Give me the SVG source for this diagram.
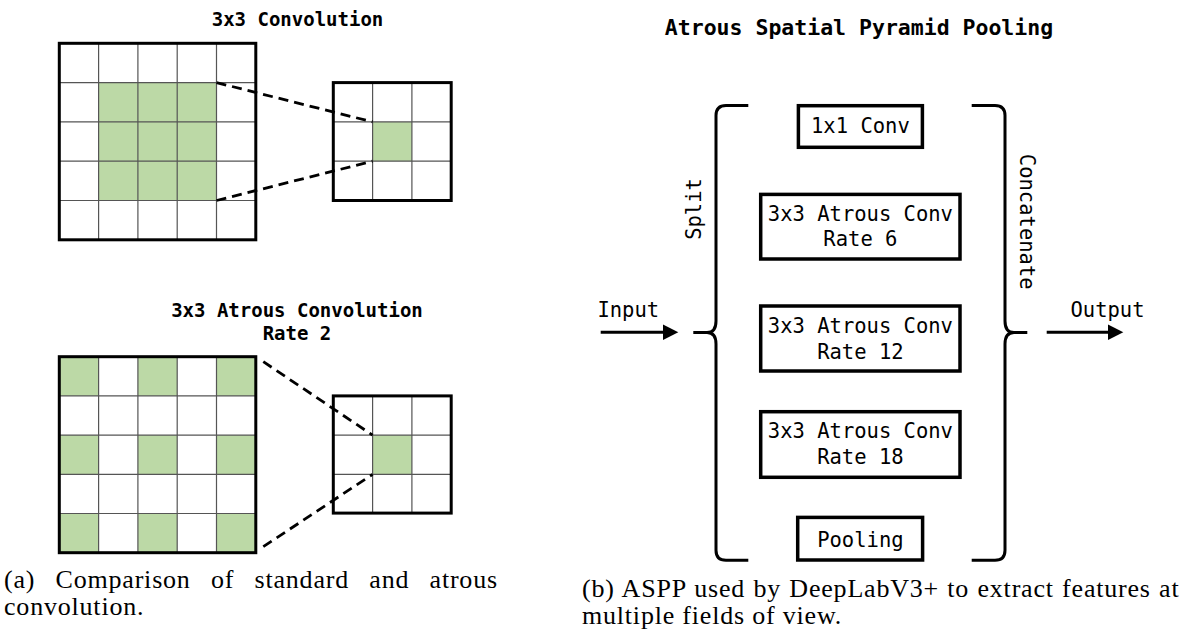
<svg xmlns="http://www.w3.org/2000/svg" width="1189" height="637" viewBox="0 0 1189 637">
<style>
.g{fill:#bcd9a6}
.thin{stroke:#555;stroke-width:1.2;fill:none}
.outer{stroke:#000;stroke-width:3;fill:none}
.dash{stroke:#000;stroke-width:2.8;stroke-dasharray:10 6;fill:none}
.box{fill:#fff;stroke:#000;stroke-width:3.5}
.br{stroke:#000;stroke-width:3;fill:none}
.t{font-family:"DejaVu Sans Mono",monospace;font-size:20.5px;fill:#000}
.tb{font-family:"DejaVu Sans Mono",monospace;font-weight:bold;fill:#000}
.cap{font-family:"Liberation Serif",serif;font-size:26px;letter-spacing:0.8px;fill:#000}
</style>
<rect width="1189" height="637" fill="#fff"/>

<!-- Standard convolution -->
<g id="title-conv"><text class="tb" x="297.5" y="26" font-size="19" text-anchor="middle">3x3 Convolution</text></g>
<g id="grid-conv-input">
<rect class="g" x="98.6" y="82.6" width="117.9" height="117.9"/>
<path class="thin" d="M98.6,43.3V239.8M137.9,43.3V239.8M177.2,43.3V239.8M216.5,43.3V239.8M59.3,82.6H255.8M59.3,121.9H255.8M59.3,161.2H255.8M59.3,200.5H255.8"/>
<rect class="outer" x="59.3" y="43.3" width="196.5" height="196.5"/>
</g>
<g id="grid-conv-output">
<rect class="g" x="372.6" y="121.9" width="39.3" height="39.3"/>
<path class="thin" d="M372.6,82.6V200.5M411.9,82.6V200.5M333.3,121.9H451.2M333.3,161.2H451.2"/>
<rect class="outer" x="333.3" y="82.6" width="117.9" height="117.9"/>
</g>

<!-- Atrous convolution -->
<g id="title-atrous">
<text class="tb" x="297" y="316.7" font-size="19" text-anchor="middle">3x3 Atrous Convolution</text>
<text class="tb" x="297" y="340" font-size="19" text-anchor="middle">Rate 2</text>
</g>
<g id="grid-atrous-input">
<rect class="g" x="59.3" y="356.7" width="39.3" height="39.2"/>
<rect class="g" x="137.9" y="356.7" width="39.3" height="39.2"/>
<rect class="g" x="216.5" y="356.7" width="39.3" height="39.2"/>
<rect class="g" x="59.3" y="435.1" width="39.3" height="39.2"/>
<rect class="g" x="137.9" y="435.1" width="39.3" height="39.2"/>
<rect class="g" x="216.5" y="435.1" width="39.3" height="39.2"/>
<rect class="g" x="59.3" y="513.5" width="39.3" height="39.2"/>
<rect class="g" x="137.9" y="513.5" width="39.3" height="39.2"/>
<rect class="g" x="216.5" y="513.5" width="39.3" height="39.2"/>
<path class="thin" d="M98.6,356.7V552.7M137.9,356.7V552.7M177.2,356.7V552.7M216.5,356.7V552.7M59.3,395.9H255.8M59.3,435.1H255.8M59.3,474.3H255.8M59.3,513.5H255.8"/>
<rect class="outer" x="59.3" y="356.7" width="196.5" height="196"/>
</g>
<g id="grid-atrous-output">
<rect class="g" x="372.6" y="435.1" width="39.3" height="39.2"/>
<path class="thin" d="M372.6,395.9V513.1M411.9,395.9V513.1M333.3,435.1H451.2M333.3,474.3H451.2"/>
<rect class="outer" x="333.3" y="395.9" width="117.9" height="117.2"/>
</g>

<!-- ASPP -->
<g id="title-aspp"><text class="tb" x="859" y="35" font-size="21.5" text-anchor="middle">Atrous Spatial Pyramid Pooling</text></g>

<g id="connectors">
<path class="dash" d="M216.5,82.6L372.6,121.9M216.5,200.5L372.6,161.2"/>
<path class="dash" d="M263.3,361.7L372.6,435.1M263.3,546.7L372.6,474.3"/>
<path class="br" d="M748.3,105.5H726Q716,105.5 716,115.5V321Q716,332.5 707,332.5Q716,332.5 716,344V550.2Q716,560.2 726,560.2H748.3M693.3,332.5H707"/>
<path class="br" d="M971.7,105.5H995Q1005,105.5 1005,115.5V321Q1005,332.5 1014,332.5Q1005,332.5 1005,344V550.2Q1005,560.2 995,560.2H971.7M1014,332.5H1027.3"/>
<path stroke="#000" stroke-width="3" d="M600.7,332.3H665"/>
<polygon points="663,324.5 678.3,332.3 663,340.1" fill="#000"/>
<path stroke="#000" stroke-width="3" d="M1046.7,332.3H1110"/>
<polygon points="1108,324.5 1123.3,332.3 1108,340.1" fill="#000"/>
</g>

<g id="label-input"><text class="t" x="628.3" y="316.7" text-anchor="middle">Input</text></g>
<g id="label-output"><text class="t" x="1107.5" y="316.7" text-anchor="middle">Output</text></g>
<g id="label-split"><text class="t" transform="translate(701,209) rotate(-90)" text-anchor="middle">Split</text></g>
<g id="label-concat"><text class="t" transform="translate(1020,221.7) rotate(90)" text-anchor="middle">Concatenate</text></g>

<g id="node-1x1">
<rect class="box" x="798.4" y="105.7" width="124" height="41.6"/>
<text class="t" x="860.4" y="133.3" text-anchor="middle">1x1 Conv</text>
</g>
<g id="node-rate6">
<rect class="box" x="760.7" y="194.4" width="199.3" height="64.6"/>
<text class="t" x="860.4" y="220.7" text-anchor="middle">3x3 Atrous Conv</text>
<text class="t" x="860.4" y="246" text-anchor="middle">Rate 6</text>
</g>
<g id="node-rate12">
<rect class="box" x="760.7" y="306" width="199.3" height="65"/>
<text class="t" x="860.4" y="333.3" text-anchor="middle">3x3 Atrous Conv</text>
<text class="t" x="860.4" y="359.3" text-anchor="middle">Rate 12</text>
</g>
<g id="node-rate18">
<rect class="box" x="760.7" y="411.7" width="199.3" height="65.6"/>
<text class="t" x="860.4" y="438.3" text-anchor="middle">3x3 Atrous Conv</text>
<text class="t" x="860.4" y="464.3" text-anchor="middle">Rate 18</text>
</g>
<g id="node-pooling">
<rect class="box" x="797.7" y="517.4" width="124.9" height="42.6"/>
<text class="t" x="860.4" y="546.7" text-anchor="middle">Pooling</text>
</g>

<g id="captions">
<text class="cap" x="4" y="588" word-spacing="13">(a) Comparison of standard and atrous</text>
<text class="cap" x="4" y="615">convolution.</text>
<text class="cap" x="582" y="597" word-spacing="1">(b) ASPP used by DeepLabV3+ to extract features at</text>
<text class="cap" x="582" y="624">multiple fields of view.</text>
</g>
</svg>
